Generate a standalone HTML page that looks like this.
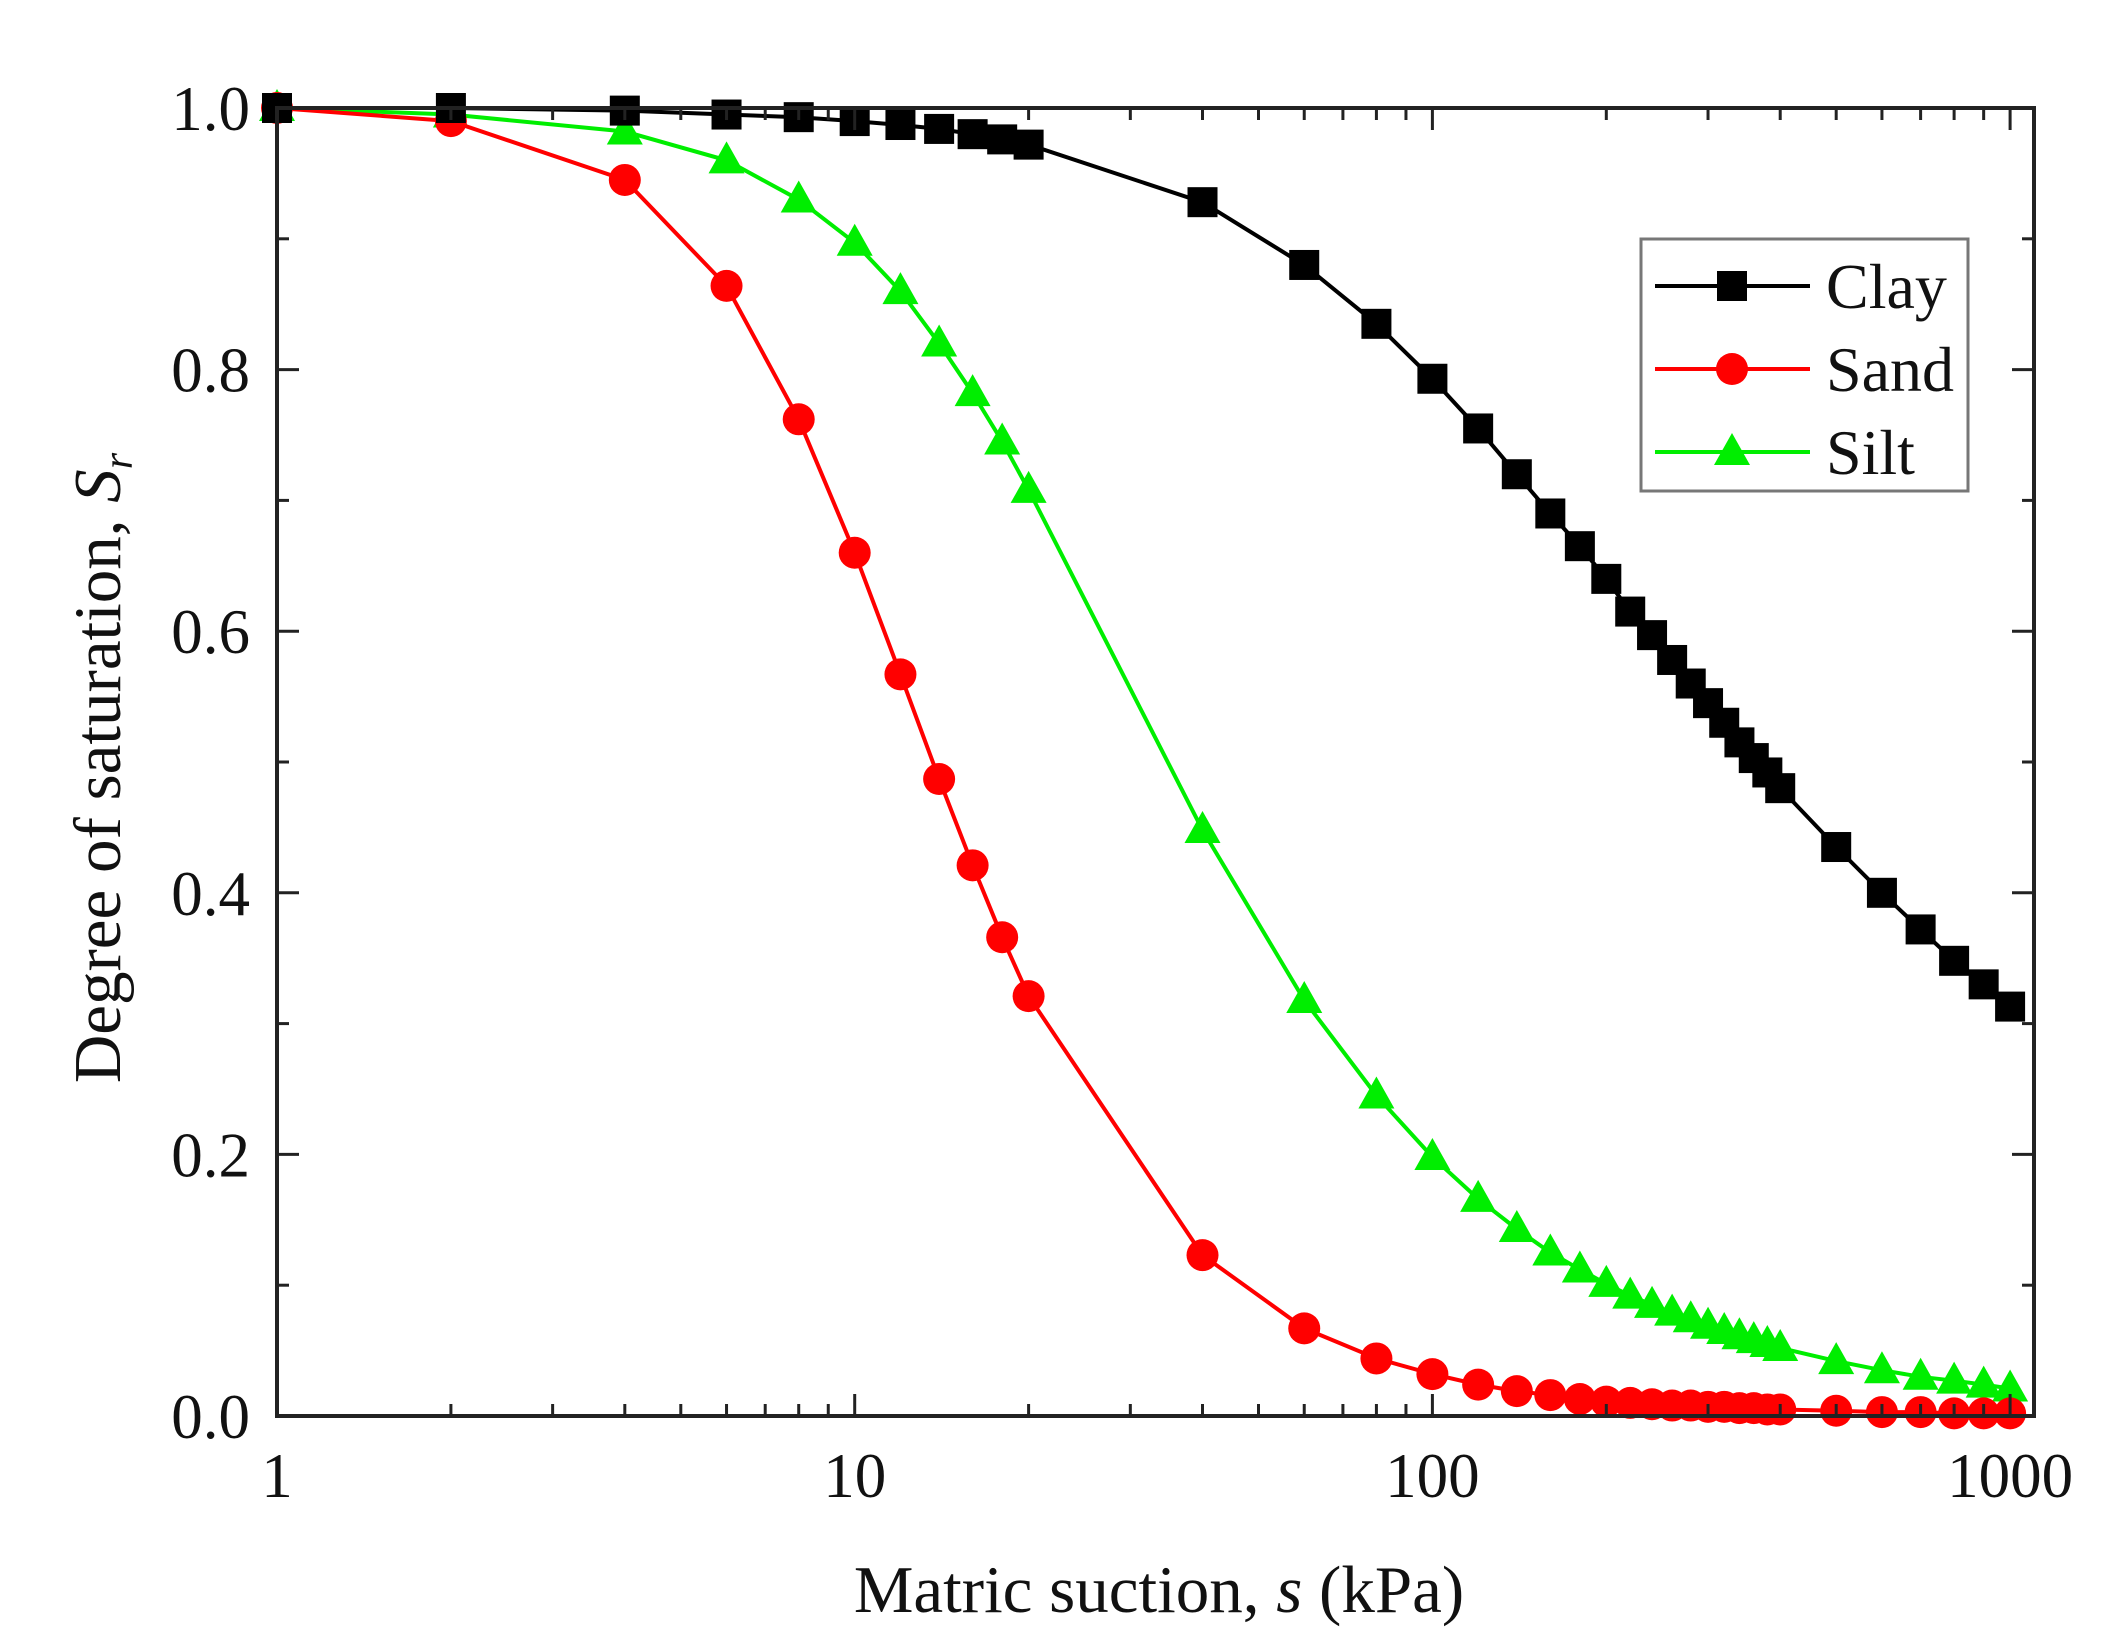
<!DOCTYPE html>
<html><head><meta charset="utf-8"><style>
html,body{margin:0;padding:0;background:#fff;}
svg{display:block;}
text{font-family:"Liberation Serif",serif;fill:#111;}
</style></head><body>
<svg id="chart" width="2122" height="1648" viewBox="0 0 2122 1648" xmlns="http://www.w3.org/2000/svg">
<g id="plot"></g>
<g id="axes"></g>
<g id="legend"></g>
</svg>
<script>
const suction = [1,2,4,6,8,10,12,14,16,18,20,40,60,80,100,120,140,160,180,200,220,240,260,280,300,320,340,360,380,400,500,600,700,800,900,1000];
const clay = [1.0,1.0,0.998,0.995,0.993,0.99,0.987,0.984,0.98,0.976,0.972,0.928,0.88,0.835,0.793,0.755,0.72,0.69,0.665,0.64,0.615,0.597,0.578,0.56,0.545,0.53,0.515,0.503,0.492,0.48,0.435,0.4,0.372,0.348,0.33,0.313];
const sand = [1.0,0.99,0.945,0.864,0.762,0.66,0.567,0.487,0.421,0.366,0.321,0.123,0.067,0.044,0.032,0.024,0.019,0.016,0.013,0.011,0.01,0.009,0.008,0.008,0.007,0.007,0.006,0.006,0.005,0.005,0.004,0.003,0.003,0.002,0.002,0.002];
const silt = [1.0,0.995,0.982,0.96,0.93,0.897,0.86,0.82,0.782,0.745,0.708,0.448,0.318,0.245,0.198,0.166,0.143,0.125,0.112,0.101,0.092,0.085,0.079,0.074,0.069,0.065,0.061,0.058,0.055,0.052,0.042,0.035,0.03,0.027,0.024,0.021];
const xTickValues = [1,10,100,1000];
const xTickLabels = ["1","10","100","1000"];
const yTickValues = [0,0.2,0.4,0.6,0.8,1.0];
const yTickLabels = ["0.0","0.2","0.4","0.6","0.8","1.0"];
const seriesNames = ["Clay","Sand","Silt"];

const NS = "http://www.w3.org/2000/svg";
const L = 277, R = 2034, T = 108, B = 1416, DEC = 577.7;
function sx(v){ return L + Math.log10(v) * DEC; }
function sy(v){ return B - v * (B - T); }
function mk(tag, attrs, parent){ const e = document.createElementNS(NS, tag); for (const k in attrs) e.setAttribute(k, attrs[k]); parent.appendChild(e); return e; }

const plot = document.getElementById('plot');
const axes = document.getElementById('axes');
const legend = document.getElementById('legend');

function marker(type, x, y, color, parent){
  let m;
  if (type === 'square') m = mk('rect', {x:x-15, y:y-15, width:30, height:30, fill:color}, parent);
  else if (type === 'circle') m = mk('circle', {cx:x, cy:y, r:16, fill:color}, parent);
  else m = mk('polygon', {points:`${x},${y-19} ${x+18},${y+13} ${x-18},${y+13}`, fill:color}, parent);
  return m;
}

const series = [
  {name:'clay', vals:clay, color:'#000', type:'square'},
  {name:'sand', vals:sand, color:'#ff0000', type:'circle'},
  {name:'silt', vals:silt, color:'#00ee00', type:'triangle'}
];
series.slice().reverse().forEach(s => {
  const g = mk('g', {}, plot);
  
  
  const pts = suction.map((x,i) => sx(x).toFixed(1) + ',' + sy(s.vals[i]).toFixed(1)).join(' ');
  const line = mk('polyline', {points:pts, fill:'none', stroke:s.color, 'stroke-width':4}, g);
  
  
  suction.forEach((x,i) => {
    const m = marker(s.type, sx(x), sy(s.vals[i]), s.color, g);
    
    
  });
});

const frame = mk('rect', {x:L, y:T, width:R-L, height:B-T, fill:'none', stroke:'#222', 'stroke-width':4}, axes);



for (let d = 0; d < 3; d++) {
  for (let k = 1; k <= 10; k++) {
    const v = Math.pow(10, d) * k;
    if (k === 1 && d > 0) continue;
    const x = sx(v); const len = (k === 1 || k === 10) ? 22 : 12;
    mk('line', {x1:x, y1:B, x2:x, y2:B-len, stroke:'#222', 'stroke-width':3}, axes);
    mk('line', {x1:x, y1:T, x2:x, y2:T+len, stroke:'#222', 'stroke-width':3}, axes);
  }
}
xTickValues.forEach((v,i) => {
  const t = mk('text', {x:sx(v), y:1497, 'font-size':63, 'text-anchor':'middle'}, axes);
  t.textContent = xTickLabels[i];
  
  
});
for (let j = 0; j <= 10; j++) {
  const v = j / 10; const y = sy(v); const len = (j % 2 === 0) ? 22 : 12;
  mk('line', {x1:L, y1:y, x2:L+len, y2:y, stroke:'#222', 'stroke-width':3}, axes);
  mk('line', {x1:R, y1:y, x2:R-len, y2:y, stroke:'#222', 'stroke-width':3}, axes);
}
yTickValues.forEach((v,i) => {
  const t = mk('text', {x:250, y:sy(v)+22, 'font-size':63, 'text-anchor':'end'}, axes);
  t.textContent = yTickLabels[i];
  
  
});
const xt = mk('text', {x:1159, y:1612, 'font-size':67, 'text-anchor':'middle'}, axes);
xt.innerHTML = 'Matric suction, <tspan font-style="italic">s</tspan> (kPa)';


const yt = mk('text', {x:0, y:0, 'font-size':67, 'text-anchor':'middle', transform:'translate(120,768) rotate(-90)'}, axes);
yt.innerHTML = 'Degree of saturation, <tspan font-style="italic">S</tspan><tspan font-style="italic" font-size="42" dy="12">r</tspan>';



const lb = mk('rect', {x:1641, y:239, width:327, height:252, fill:'#fff', stroke:'#777', 'stroke-width':3}, legend);


const ly = [286, 369, 452];
series.forEach((s,i) => {
  const g = mk('g', {}, legend);
  
  
  mk('line', {x1:1655, y1:ly[i], x2:1810, y2:ly[i], stroke:s.color, 'stroke-width':4}, g);
  marker(s.type, 1732, ly[i], s.color, g);
  const t = mk('text', {x:1826, y:ly[i]+22, 'font-size':64}, g);
  t.textContent = seriesNames[i];
});
</script>
</body></html>
